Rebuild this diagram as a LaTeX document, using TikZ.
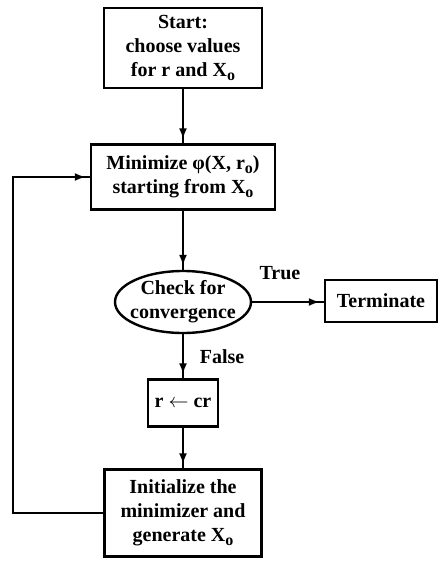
\documentclass[tikz,border=0pt]{standalone}
\usepackage{fontspec}
\setmainfont{Liberation Serif}
\usetikzlibrary{shapes.geometric,arrows.meta,decorations.markings}
\newcommand{\subo}{\raisebox{-0.45ex}{\footnotesize o}}
\tikzset{
  stepbox/.style={draw, rectangle, line width=1.2pt, align=center, inner sep=2pt, font=\bfseries\normalsize},
  testoval/.style={draw, ellipse, line width=1.2pt, align=center, inner xsep=-6pt, inner ysep=-3pt, font=\bfseries\normalsize},
  flow/.style={line width=1.3pt, postaction={decorate},
    decoration={markings, mark=at position -2pt with {\arrow{Latex[length=5.5pt,width=4pt]}}}},
  lbl/.style={font=\bfseries\normalsize}
}
\begin{document}
\begin{tikzpicture}[x=0.5pt, y=-0.5pt]
      \useasboundingbox (0,0) rectangle (439,562);
      \draw
        (183,48) node[stepbox, minimum width=79pt, minimum height=40pt] (start){Start:\\choose values\\for r and X\subo}
        (183,177) node[stepbox, minimum width=92pt, minimum height=32.5pt] (min){Minimize φ(X, r\subo)\\starting from X\subo}
        (183,302) node[testoval, minimum width=68pt, minimum height=31pt] (check){Check for\\convergence}
        (381,301) node[stepbox, minimum width=56pt, minimum height=21pt] (term){Terminate}
        (183,403) node[stepbox, minimum width=35pt, minimum height=23.5pt] (rcr){r $\leftarrow$ cr}
        (183,513) node[stepbox, minimum width=78.5pt, minimum height=43.5pt] (init){Initialize the\\minimizer and\\generate X\subo};
      \coordinate (lb) at (13,513);
      \coordinate (lt) at (13,177);
      \begin{scope}[-]
        \draw[flow] (start) to (min);
        \draw[flow] (min) to (check);
        \draw[flow] (check.east) to (term.west |- check.east);
        \draw[flow] (check) to (rcr);
        \draw[flow] (rcr) to (init);
        \draw[flow] (init.west) -- (lb) -- (lt) -- (min.west);
      \end{scope}
      \node[lbl] (true) at (280,273) {True};
      \node[lbl] (false) at (222,357) {False};
    \end{tikzpicture}
\end{document}
